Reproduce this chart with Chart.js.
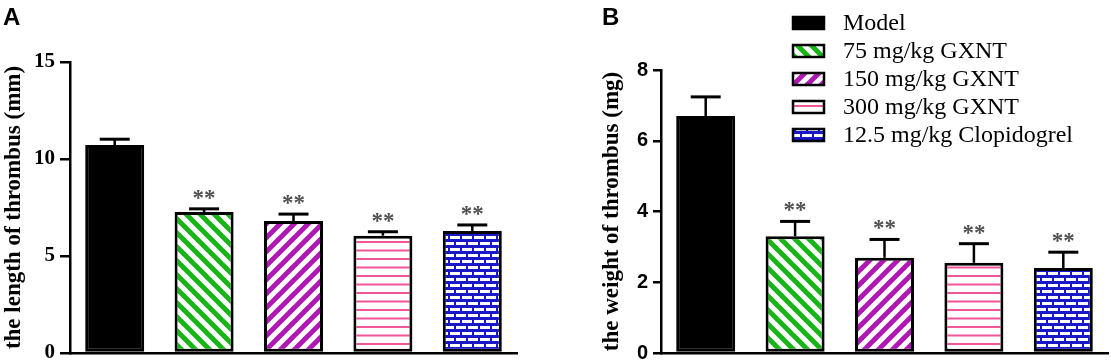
<!DOCTYPE html>
<html><head><meta charset="utf-8">
<script src="https://cdn.jsdelivr.net/npm/chart.js@4.4.0/dist/chart.umd.min.js"></script>
<style>
html,body{margin:0;padding:0;background:#fff;width:1111px;height:364px;overflow:hidden;}
#ca{position:absolute;left:0;top:0;}
#cb{position:absolute;left:598px;top:0;}
.lab{position:absolute;font-family:"Liberation Sans",Arial,sans-serif;font-weight:bold;font-size:24px;line-height:1;color:#000;}
</style></head><body>
<canvas id="ca" width="560" height="364"></canvas>
<canvas id="cb" width="513" height="364"></canvas>
<div class="lab" style="left:3px;top:5px;">A</div>
<div class="lab" style="left:602px;top:5px;">B</div>
<script>
// ---- data ----
const groups = ['Model', '75 mg/kg GXNT', '150 mg/kg GXNT', '300 mg/kg GXNT', '12.5 mg/kg Clopidogrel'];
const lengthMean = [10.72, 7.27, 6.80, 6.05, 6.29];
const lengthErr  = [0.30, 0.16, 0.36, 0.20, 0.31];
const weightMean = [6.70, 3.30, 2.69, 2.55, 2.40];
const weightErr  = [0.54, 0.42, 0.52, 0.54, 0.45];
const signif = ['', '**', '**', '**', '**'];
const lengthTicks = [0, 5, 10, 15];
const weightTicks = [0, 2, 4, 6, 8];

// ---- patterns ----
function tile(w, h, draw) {
  const c = document.createElement('canvas');
  c.width = w; c.height = h;
  const g = c.getContext('2d');
  draw(g, w, h);
  return c;
}
const GREEN = '#18b418', PURPLE = '#b018b4', PINK = '#f2559a', BLUE = '#1818c8';
const tiles = [
  null,
  tile(14, 14, (g, w, h) => {
    g.fillStyle = '#fff'; g.fillRect(0, 0, w, h);
    g.strokeStyle = GREEN; g.lineWidth = 5;
    for (let k = -1; k <= 1; k++) { g.beginPath(); g.moveTo(k * w - 2, -2); g.lineTo(k * w + w + 2, h + 2); g.stroke(); }
  }),
  tile(14, 14, (g, w, h) => {
    g.fillStyle = '#fff'; g.fillRect(0, 0, w, h);
    g.strokeStyle = PURPLE; g.lineWidth = 5;
    for (let k = 0; k <= 2; k++) { g.beginPath(); g.moveTo(k * w + 2, -2); g.lineTo(k * w - w - 2, h + 2); g.stroke(); }
  }),
  tile(4, 17, (g, w, h) => {
    g.fillStyle = '#fff'; g.fillRect(0, 0, w, h);
    g.fillStyle = PINK; g.fillRect(0, 3, w, 2); g.fillRect(0, 11.5, w, 2);
  }),
  tile(12, 12, (g, w, h) => {
    g.fillStyle = BLUE; g.fillRect(0, 0, w, h);
    g.fillStyle = '#fff';
    g.fillRect(0, 2, 10, 3);
    g.fillRect(0, 8, 4, 3); g.fillRect(6, 8, 6, 3);
  })
];
function fills(ctx) {
  return tiles.map(t => t ? ctx.createPattern(t, 'repeat') : '#000');
}

// ---- plugins ----
function errorPlugin(means, errs) {
  return {
    id: 'errbars',
    afterDatasetsDraw(chart) {
      const ctx = chart.ctx, ys = chart.scales.y, meta = chart.getDatasetMeta(0);
      ctx.save();
      ctx.strokeStyle = '#000';
      meta.data.forEach((bar, i) => {
        const x = bar.x;
        const yb = ys.getPixelForValue(means[i]);
        const yt = ys.getPixelForValue(means[i] + errs[i]);
        ctx.lineWidth = 2.5;
        ctx.beginPath(); ctx.moveTo(x, yb); ctx.lineTo(x, yt); ctx.stroke();
        ctx.lineWidth = 3;
        ctx.beginPath(); ctx.moveTo(x - 15, yt); ctx.lineTo(x + 15, yt); ctx.stroke();
        if (signif[i]) {
          ctx.fillStyle = '#505050';
          ctx.font = 'bold 23px "Liberation Serif", "Times New Roman", serif';
          ctx.textAlign = 'center'; ctx.textBaseline = 'alphabetic';
          ctx.fillText(signif[i], x, yt - 4);
        }
      });
      ctx.restore();
    }
  };
}
const legendPlugin = {
  id: 'customLegend',
  afterDraw(chart) {
    const ctx = chart.ctx;
    const f = fills(ctx);
    ctx.save();
    groups.forEach((name, i) => {
      const cy = 23 + 28 * i;
      const bx = 195, bw = 31, bh = 12;
      ctx.fillStyle = f[i];
      ctx.fillRect(bx, cy - bh / 2, bw, bh);
      ctx.strokeStyle = '#000'; ctx.lineWidth = 2.5;
      ctx.strokeRect(bx, cy - bh / 2, bw, bh);
      ctx.fillStyle = '#000';
      ctx.font = '24px "Liberation Serif", "Times New Roman", serif';
      ctx.textAlign = 'left'; ctx.textBaseline = 'middle';
      ctx.fillText(name, 245, cy + 1);
    });
    ctx.restore();
  }
};

function makeChart(id, means, errs, ticks, yTitle, o) {
  const canvas = document.getElementById(id);
  const ctx = canvas.getContext('2d');
  const plugins = [errorPlugin(means, errs)];
  if (o.legend) plugins.push(legendPlugin);
  return new Chart(ctx, {
    type: 'bar',
    data: {
      labels: groups,
      datasets: [{
        data: means,
        backgroundColor: fills(ctx),
        borderColor: '#000',
        borderWidth: 3,
        borderSkipped: false,
        categoryPercentage: 1,
        barPercentage: 0.66
      }]
    },
    options: {
      responsive: false,
      animation: false,
      devicePixelRatio: 1,
      layout: { padding: { left: 0, top: o.top, right: o.right, bottom: 11 } },
      plugins: { legend: { display: false }, tooltip: { enabled: false } },
      scales: {
        x: {
          type: 'category',
          offset: true,
          grid: { display: false, drawTicks: false },
          ticks: { display: false },
          border: { display: true, color: '#000', width: 2.5 },
          afterFit: s => { s.height = 0; s.paddingLeft = 0; s.paddingRight = 0; }
        },
        y: {
          min: ticks[0], max: ticks[ticks.length - 1],
          afterBuildTicks: s => { s.ticks = ticks.map(v => ({ value: v })); },
          afterFit: s => { s.width = o.axisW; s.paddingTop = 0; s.paddingBottom = 0; },
          grid: { drawOnChartArea: false, drawTicks: true, tickLength: o.tickLen, color: '#000', lineWidth: 2.5 },
          border: { display: true, color: '#000', width: 2.5 },
          ticks: { color: '#000', padding: 5, font: o.tickFont },
          title: {
            display: true, text: yTitle, color: '#000', padding: { top: 0, bottom: 0 },
            font: { family: '"Liberation Serif", "Times New Roman", serif', size: 23, weight: 'bold' }
          }
        }
      }
    },
    plugins
  });
}

makeChart('ca', lengthMean, lengthErr, lengthTicks, 'the length of thrombus (mm)', {
  top: 62, right: 43, axisW: 70, tickLen: 10, legend: false,
  tickFont: { family: '"Liberation Serif", "Times New Roman", serif', size: 21, weight: 'bold' }
});
makeChart('cb', weightMean, weightErr, weightTicks, 'the weight of thrombus (mg)', {
  top: 70, right: 3, axisW: 63, tickLen: 8, legend: true,
  tickFont: { family: '"Liberation Sans", Arial, sans-serif', size: 20, weight: 'bold' }
});
</script>
</body></html>
